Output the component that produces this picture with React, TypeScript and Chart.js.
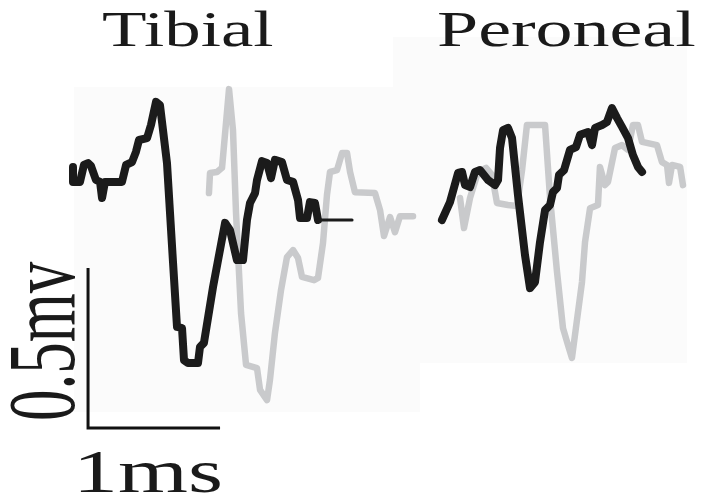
import React, { useEffect, useRef } from "react";
import { Chart, registerables } from "chart.js";

Chart.register(...registerables);

// Time in ms, amplitude in mV (scale bar 1 ms x 0.5 mV)
const tibialBlackT = [0.053, 0.053, 0.106, 0.136, 0.167, 0.189, 0.227, 0.258, 0.273, 0.295, 0.424, 0.455, 0.5, 0.53, 0.553, 0.614, 0.644, 0.682, 0.712, 0.765, 0.811, 0.841, 0.879, 0.894, 0.924, 1.0, 1.015, 1.045, 1.114, 1.205, 1.242, 1.295, 1.341, 1.371, 1.394, 1.432, 1.447, 1.485, 1.523, 1.553, 1.583, 1.636, 1.674, 1.72, 1.758, 1.773, 1.826, 1.848, 1.886, 1.909, 2.167];
const tibialBlackV = [0.041, -0.006, -0.006, 0.047, 0.053, 0.044, 0.0, -0.006, -0.056, -0.006, -0.006, 0.047, 0.056, 0.088, 0.125, 0.131, 0.172, 0.244, 0.234, 0.053, -0.259, -0.459, -0.463, -0.563, -0.572, -0.572, -0.522, -0.509, -0.334, -0.134, -0.156, -0.25, -0.25, -0.125, -0.072, -0.041, 0.0, 0.059, 0.053, 0.006, 0.063, 0.056, 0.0, -0.006, -0.063, -0.119, -0.119, -0.069, -0.072, -0.125, -0.125];

const tibialGrayT = [1.083, 1.091, 1.144, 1.182, 1.235, 1.265, 1.288, 1.326, 1.364, 1.447, 1.47, 1.523, 1.545, 1.583, 1.629, 1.674, 1.72, 1.758, 1.788, 1.879, 1.909, 1.947, 1.977, 2.0, 2.053, 2.091, 2.129, 2.152, 2.189, 2.341, 2.379, 2.409, 2.455, 2.492, 2.53, 2.629];
const tibialGrayV = [-0.041, 0.022, 0.025, 0.038, 0.284, 0.156, -0.103, -0.416, -0.578, -0.588, -0.656, -0.688, -0.625, -0.478, -0.344, -0.241, -0.219, -0.244, -0.303, -0.313, -0.306, -0.197, -0.047, 0.025, 0.031, 0.084, 0.084, 0.025, -0.038, -0.041, -0.094, -0.175, -0.116, -0.163, -0.113, -0.113];

const peronealBlackT = [2.848, 2.909, 2.97, 3.0, 3.023, 3.061, 3.098, 3.136, 3.197, 3.25, 3.273, 3.288, 3.311, 3.348, 3.379, 3.424, 3.477, 3.515, 3.553, 3.591, 3.629, 3.667, 3.689, 3.72, 3.735, 3.773, 3.818, 3.864, 3.894, 3.955, 3.985, 4.008, 4.061, 4.098, 4.136, 4.174, 4.212, 4.258, 4.295, 4.333, 4.364];
const peronealBlackV = [-0.125, -0.069, 0.022, 0.025, -0.016, -0.022, 0.025, 0.031, 0.0, -0.016, 0.0, 0.1, 0.156, 0.163, 0.131, -0.047, -0.234, -0.338, -0.319, -0.194, -0.094, -0.078, -0.038, -0.025, 0.016, 0.031, 0.094, 0.103, 0.141, 0.15, 0.109, 0.163, 0.172, 0.181, 0.225, 0.194, 0.166, 0.131, 0.078, 0.041, 0.025];

const peronealGrayT = [2.985, 3.015, 3.061, 3.121, 3.182, 3.227, 3.265, 3.348, 3.417, 3.455, 3.492, 3.629, 3.667, 3.72, 3.765, 3.803, 3.833, 3.856, 3.909, 3.932, 3.97, 4.03, 4.045, 4.083, 4.106, 4.159, 4.212, 4.258, 4.295, 4.333, 4.364, 4.477, 4.515, 4.553, 4.568, 4.591, 4.652, 4.674];
const peronealGrayV = [-0.056, -0.15, -0.056, 0.025, 0.038, 0.016, -0.072, -0.078, -0.081, 0.031, 0.172, 0.172, -0.056, -0.288, -0.463, -0.516, -0.556, -0.484, -0.319, -0.194, -0.088, -0.078, 0.041, -0.016, -0.006, 0.1, 0.109, 0.094, 0.172, 0.172, 0.119, 0.109, 0.056, 0.047, -0.009, 0.047, 0.041, -0.016];

// Scale bar: 0.5 mV vertical, 1 ms horizontal
const scaleBarT = [0.167, 0.167, 1.167];
const scaleBarV = [-0.275, -0.775, -0.775];

const titles = ["Tibial", "Peroneal"];
const scaleLabels = ["0.5mv", "1ms"];

const toPts = (t: number[], v: number[]) => t.map((x, i) => ({ x, y: v[i] }));

const BLACK = "#1b1b1b";
const GRAY = "#c9cacc";
const SERIF = "'Liberation Serif', 'Times New Roman', Times, serif";

export default function App() {
  const ref = useRef<HTMLCanvasElement | null>(null);

  useEffect(() => {
    if (!ref.current) return;
    const lastThick = tibialBlackT.length - 2;
    const chart = new Chart(ref.current, {
      type: "line",
      data: {
        datasets: [
          {
            label: "Tibial (black)",
            data: toPts(tibialBlackT, tibialBlackV),
            borderColor: BLACK,
            borderWidth: 8,
            order: 1,
            segment: {
              borderWidth: (ctx: any) => (ctx.p0DataIndex >= lastThick ? 3 : 8),
            },
          },
          {
            label: "Peroneal (black)",
            data: toPts(peronealBlackT, peronealBlackV),
            borderColor: BLACK,
            borderWidth: 8,
            order: 1,
          },
          {
            label: "Tibial (gray)",
            data: toPts(tibialGrayT, tibialGrayV),
            borderColor: GRAY,
            borderWidth: 6.5,
            order: 2,
          },
          {
            label: "Peroneal (gray)",
            data: toPts(peronealGrayT, peronealGrayV),
            borderColor: GRAY,
            borderWidth: 6.5,
            order: 2,
          },
          {
            label: "Scale bar",
            data: toPts(scaleBarT, scaleBarV),
            borderColor: "#111111",
            borderWidth: 3,
            borderJoinStyle: "miter",
            borderCapStyle: "butt",
            order: 0,
          },
        ] as any,
      },
      options: {
        animation: false,
        responsive: false,
        devicePixelRatio: 1,
        layout: { padding: 0 },
        elements: {
          point: { radius: 0, hoverRadius: 0 },
          line: { tension: 0, borderJoinStyle: "round", borderCapStyle: "round", fill: false },
        },
        scales: {
          x: { type: "linear", display: false, min: -0.5, max: 4.8333 },
          y: { type: "linear", display: false, min: -1.0125, max: 0.5625 },
        },
        plugins: {
          legend: { display: false },
          tooltip: { enabled: false },
          title: { display: false },
        },
      } as any,
    });
    return () => chart.destroy();
  }, []);

  const abs: React.CSSProperties = { position: "absolute", margin: 0, whiteSpace: "nowrap", color: "#1a1a1a", fontFamily: SERIF, lineHeight: 1 };

  return (
    <div style={{ position: "absolute", left: 0, top: 0, width: 704, height: 504, background: "#ffffff", overflow: "hidden" }}>
      <div style={{ position: "absolute", left: 74, top: 87, width: 346, height: 325, background: "#fbfbfb" }} />
      <div style={{ position: "absolute", left: 393, top: 37, width: 294, height: 326, background: "#fbfbfb" }} />
      <canvas ref={ref} width={704} height={504} style={{ position: "absolute", left: 0, top: 0, width: 704, height: 504, display: "block" }} />
      <div style={{ ...abs, left: 102, top: 4, fontSize: 51, transformOrigin: "0 0", transform: "scaleX(1.43)" }}>{titles[0]}</div>
      <div style={{ ...abs, left: 437, top: 4, fontSize: 51, transformOrigin: "0 0", transform: "scaleX(1.45)" }}>{titles[1]}</div>
      <div style={{ ...abs, left: 0, top: 0, fontSize: 63, transformOrigin: "0 0", transform: "translate(-4px, 421px) rotate(-90deg) scaleY(1.5)" }}>{scaleLabels[0]}</div>
      <div style={{ ...abs, left: 73, top: 440, fontSize: 62, transformOrigin: "0 0", transform: "scaleX(1.45)" }}>{scaleLabels[1]}</div>
    </div>
  );
}
